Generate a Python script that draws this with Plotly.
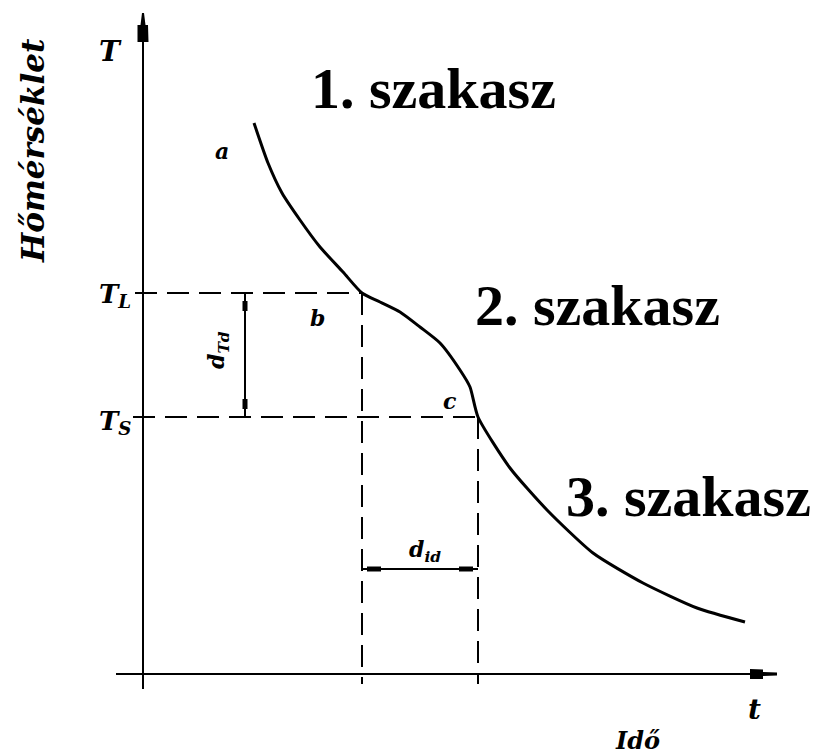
import plotly.graph_objects as go

# Cooling curve: time t vs temperature T (arbitrary units)
t_curve = [11.1, 12.5, 13.9, 15.7, 17.7, 20.0, 21.9, 23.7, 25.7, 27.7, 29.7,
           31.7, 32.7, 33.5, 36.7, 40.4, 45.0, 50.0, 55.4, 60.2]
T_curve = [55.1, 51.1, 48.1, 45.4, 42.7, 40.2, 38.1, 37.2, 36.2, 34.7, 33.1,
           30.4, 28.7, 25.7, 20.6, 16.4, 12.1, 9.1, 6.6, 5.2]

# Characteristic temperatures and times
T_L = 38.1   # liquidus
T_S = 25.7   # solidus
t_L = 21.9
t_S = 33.5
t_dTd = 10.2   # position of the d_Td dimension line
T_did = 10.5   # height of the d_id dimension line

# Section titles and point labels
sections = ["1. szakasz", "2. szakasz", "3. szakasz"]
section_pos = [(29.0, 58.6), (45.4, 36.9), (54.5, 17.8)]
points = ["a", "b", "c"]
point_pos = [(7.9, 52.3), (17.4, 35.6), (30.7, 27.3)]

X_RANGE = [-14.3, 67.8]
Y_RANGE = [-8.0, 67.4]

BLACK = "#000000"
LABEL_FONT = dict(family="DejaVu Serif", color=BLACK, weight="bold", style="italic")
SECTION_FONT = dict(family="Liberation Serif", color=BLACK, weight="bold")

fig = go.Figure()

fig.add_trace(go.Scatter(
    x=t_curve, y=T_curve, mode="lines",
    line=dict(color=BLACK, width=3, shape="spline", smoothing=0.6),
    hoverinfo="skip", showlegend=False,
))

shapes = []


def seg(x0, y0, x1, y1, width=2, dash=None):
    line = dict(color=BLACK, width=width)
    if dash:
        line["dash"] = dash
    shapes.append(dict(type="line", xref="x", yref="y",
                       x0=x0, y0=y0, x1=x1, y1=y1, line=line))


# Axes
seg(0, -1.5, 0, 63.5, width=2)
seg(-2.7, 0, 61.0, 0, width=2)
# Axis arrowheads
shapes.append(dict(type="path", xref="x", yref="y", fillcolor=BLACK, line=dict(width=0),
                   path="M -0.55 63.2 L 0.55 63.2 L 0.5 64.9 L 0.25 64.9 L 0.1 66.1 "
                        "L -0.1 66.1 L -0.25 64.9 L -0.55 64.9 Z"))
shapes.append(dict(type="path", xref="x", yref="y", fillcolor=BLACK, line=dict(width=0),
                   path="M 60.7 -0.5 L 60.7 0.5 L 62.0 0.45 L 62.0 0.2 L 63.4 0.15 "
                        "L 63.4 -0.15 L 62.0 -0.2 L 62.0 -0.5 Z"))

# Dashed guide lines at T_L and T_S
DASH = "22px,10px"
seg(-0.8, T_L, t_L, T_L, width=2, dash=DASH)
seg(-1.0, T_S, t_S, T_S, width=2, dash=DASH)
seg(t_L, T_L, t_L, -1.0, width=2, dash=DASH)
seg(t_S, T_S, t_S, -1.0, width=2, dash=DASH)

# Dimension line d_Td (vertical) with thick end marks
seg(t_dTd, T_L, t_dTd, T_S, width=2)
seg(t_dTd, T_L - 0.8, t_dTd, T_L - 1.8, width=5)
seg(t_dTd, T_S + 0.8, t_dTd, T_S + 1.8, width=5)

# Dimension line d_id (horizontal) with thick end marks
seg(t_L, T_did, t_S, T_did, width=2)
seg(t_L + 0.5, T_did, t_L + 1.9, T_did, width=5)
seg(t_S - 0.5, T_did, t_S - 1.9, T_did, width=5)

annotations = []


def label(x, y, text, size, angle=0, font=None):
    f = dict(font or LABEL_FONT)
    f["size"] = size
    annotations.append(dict(x=x, y=y, xref="x", yref="y", text=text, showarrow=False,
                            font=f, textangle=angle, xanchor="center", yanchor="middle"))


for txt, (x, y) in zip(sections, section_pos):
    label(x, y, txt, 58, font=SECTION_FONT)

for txt, (x, y) in zip(points, point_pos):
    label(x, y, txt, 22)

label(-3.3, 62.3, "T", 28)
label(-2.8, 37.9, "T<sub>L</sub>", 26)
label(-2.8, 25.2, "T<sub>S</sub>", 26)
label(7.5, 32.4, "d<sub>Td</sub>", 22, angle=-90)
label(28.2, 12.3, "d<sub>id</sub>", 22)
label(61.1, -3.5, "t", 28)
label(49.4, -6.6, "Idő", 24)
label(-11.0, 52.3, "Hőmérséklet", 31, angle=-90)

fig.update_layout(
    width=821, height=754,
    margin=dict(l=0, r=0, t=0, b=0),
    paper_bgcolor="white", plot_bgcolor="white",
    xaxis=dict(range=X_RANGE, visible=False, fixedrange=True),
    yaxis=dict(range=Y_RANGE, visible=False, fixedrange=True),
    shapes=shapes, annotations=annotations,
    showlegend=False,
)

fig.write_html("out.html")
